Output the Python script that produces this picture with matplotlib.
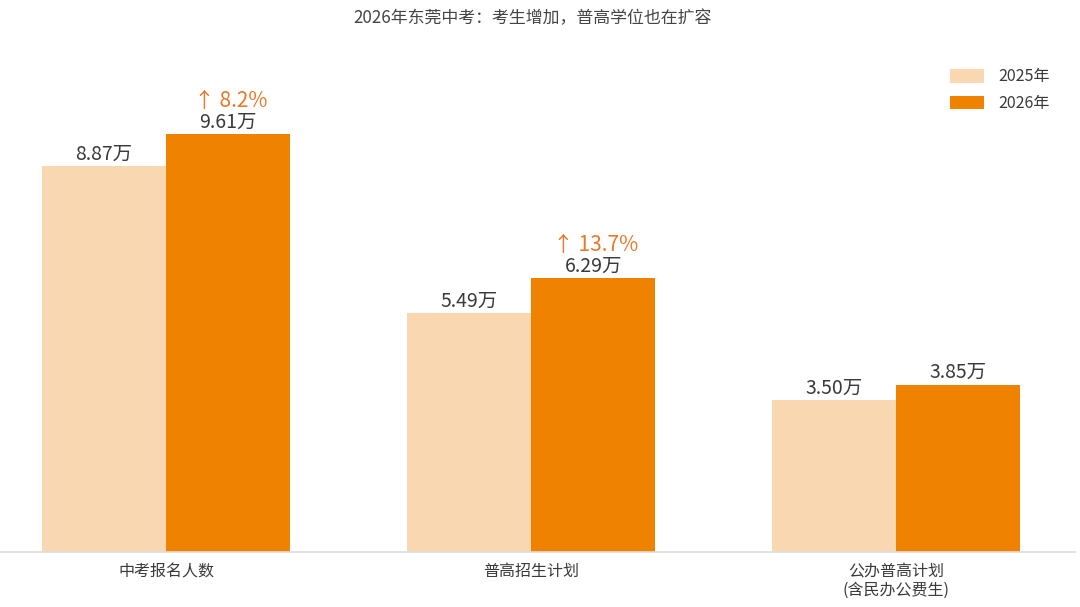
import numpy as np
import matplotlib.pyplot as plt

plt.rcParams['font.family'] = ['Noto Sans CJK SC', 'DejaVu Sans']

categories = ['中考报名人数', '普高招生计划', '公办普高计划\n(含民办公费生)']
vals_2025 = [8.87, 5.49, 3.50]
vals_2026 = [9.61, 6.29, 3.85]
growth = ['↑ 8.2%', '↑ 13.7%', None]
years = ['2025年', '2026年']

c_light = '#F9D8B1'
c_dark = '#EF8300'
c_text = '#3a3a3a'
c_up = '#E8782A'

fig = plt.figure(figsize=(10.8, 6.07), dpi=100)
ax = fig.add_axes([0.0, 55 / 607, 1075 / 1080, 492 / 607])

x = np.arange(len(categories))
w = 0.34
ax.bar(x - w / 2, vals_2025, w, color=c_light, label=years[0])
ax.bar(x + w / 2, vals_2026, w, color=c_dark, label=years[1])

for xi, v in zip(x - w / 2, vals_2025):
    ax.annotate(f'{v:.2f}万', (xi, v), xytext=(0, 1), textcoords='offset points',
                ha='center', va='bottom', fontsize=14, color=c_text)
for xi, v, g in zip(x + w / 2, vals_2026, growth):
    ax.annotate(f'{v:.2f}万', (xi, v), xytext=(0, 1), textcoords='offset points',
                ha='center', va='bottom', fontsize=14, color=c_text)
    if g:
        ax.annotate(g, (xi, v), xytext=(2, 16), textcoords='offset points',
                    ha='center', va='bottom', fontsize=15, color=c_up)

ax.set_xlim(-0.455, 2.49)
ax.set_ylim(0, 11.31)
ax.set_xticks(x)
ax.set_xticklabels(categories, fontsize=11.5, color=c_text, linespacing=1.1)
ax.tick_params(axis='x', length=0, pad=8)
ax.set_yticks([])
for s in ['top', 'right', 'left']:
    ax.spines[s].set_visible(False)
ax.spines['bottom'].set_color('#dddddd')
ax.spines['bottom'].set_linewidth(1.2)

leg = ax.legend(loc='upper right', bbox_to_anchor=(0.99, 1.012), frameon=False,
                fontsize=11.5, handlelength=2.1, handleheight=0.9,
                labelspacing=0.62, handletextpad=0.9)
for t in leg.get_texts():
    t.set_color(c_text)

fig.text(532 / 1080, 1 - 18 / 607, '2026年东莞中考：考生增加，普高学位也在扩容',
         ha='center', va='center', fontsize=12.2, color='#444444')

fig.savefig('out.png', dpi=100, facecolor='white')
